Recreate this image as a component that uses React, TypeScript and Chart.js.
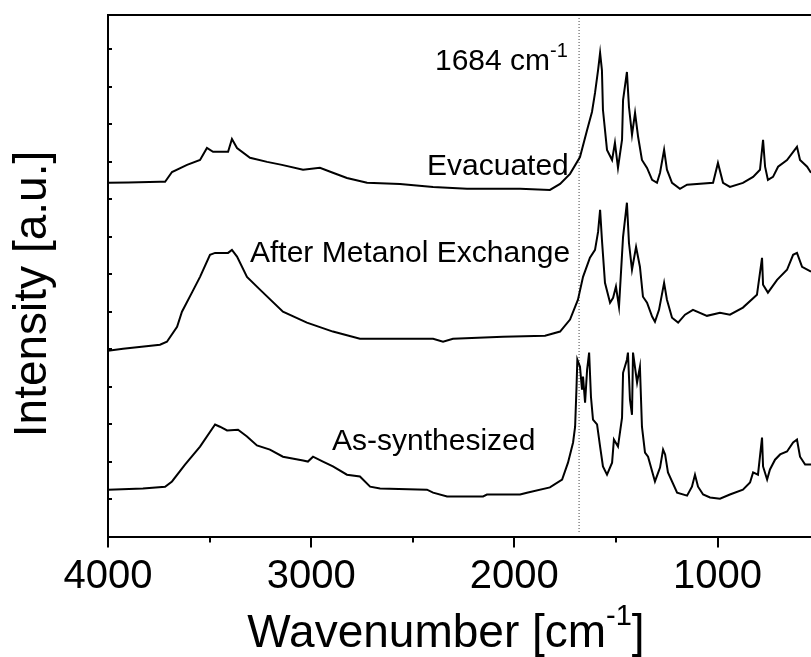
import React, { useEffect, useRef } from "react";
import { Chart, registerables } from "chart.js";

Chart.register(...registerables);

const FONT = '"Liberation Sans", Arial, Helvetica, sans-serif';

// FTIR spectra, stacked with vertical offsets (arbitrary units)
const evacuatedWn = [
  4000, 3900, 3744, 3719, 3685, 3611, 3547, 3513, 3483, 3409, 3390, 3365, 3301, 3217, 3144, 3040,
  2957, 2893, 2824, 2725, 2563, 2400, 2233, 1972, 1825, 1775, 1726, 1677, 1642, 1618, 1603, 1588,
  1578, 1569, 1564, 1544, 1519, 1505, 1490, 1470, 1465, 1446, 1436, 1421, 1406, 1391, 1372, 1347,
  1322, 1298, 1283, 1263, 1249, 1224, 1185, 1150, 1022, 998, 973, 939, 875, 825, 791, 776, 766,
  752, 727, 702, 658, 609, 594, 559, 540,
];
const evacuatedInt = [
  9.44, 9.45, 9.47, 9.47, 9.73, 9.92, 10.05, 10.37, 10.27, 10.27, 10.61, 10.37, 10.11, 10.0, 9.92, 9.79,
  9.84, 9.71, 9.57, 9.44, 9.41, 9.33, 9.28, 9.28, 9.25, 9.41, 9.68, 10.13, 10.85, 11.33, 11.84, 12.45,
  12.91, 12.45, 11.39, 10.32, 10.05, 10.51, 9.84, 10.59, 11.65, 12.4, 11.47, 10.72, 11.31, 10.67, 10.05, 9.84,
  9.52, 9.44, 9.71, 10.32, 9.79, 9.44, 9.28, 9.39, 9.44, 9.97, 9.44, 9.33, 9.44, 9.6, 9.79, 10.59, 9.87,
  9.52, 9.6, 9.87, 10.05, 10.4, 10.05, 9.87, 9.71,
];

const methanolWn = [
  4000, 3926, 3744, 3710, 3660, 3636, 3587, 3547, 3498, 3473, 3409, 3390, 3365, 3316, 3252, 3139,
  3021, 2893, 2760, 2400, 2351, 2302, 2056, 1849, 1775, 1726, 1687, 1662, 1628, 1603, 1588, 1578,
  1569, 1554, 1529, 1514, 1500, 1485, 1465, 1446, 1436, 1421, 1401, 1382, 1367, 1347, 1322, 1308,
  1288, 1263, 1249, 1224, 1194, 1160, 1121, 1052, 988, 939, 875, 806, 781, 776, 752, 707, 658, 628,
  609, 584, 540,
];
const methanolInt = [
  4.96, 5.01, 5.12, 5.2, 5.6, 6.0, 6.51, 6.93, 7.52, 7.57, 7.57, 7.65, 7.47, 6.93, 6.59, 6.0,
  5.71, 5.47, 5.28, 5.28, 5.2, 5.28, 5.33, 5.36, 5.47, 5.79, 6.32, 6.93, 7.44, 7.65, 8.13, 8.72,
  7.92, 6.77, 6.24, 6.37, 6.67, 6.13, 8.0, 8.91, 7.84, 7.12, 7.73, 7.2, 6.4, 6.24, 5.87, 5.73,
  6.05, 6.77, 6.32, 5.84, 5.71, 5.92, 6.05, 5.89, 5.97, 5.92, 6.11, 6.45, 7.44, 6.72, 6.51, 6.85, 7.12, 7.52,
  7.57, 7.2, 7.07,
];

const synthesizedWn = [
  4000, 3828, 3719, 3685, 3621, 3547, 3473, 3449, 3414, 3360, 3316, 3267, 3203, 3139, 3040, 3016,
  2991, 2942, 2893, 2824, 2760, 2710, 2661, 2430, 2400, 2331, 2154, 2135, 1972, 1938, 1825, 1765,
  1736, 1711, 1701, 1694, 1690, 1677, 1667, 1662, 1652, 1642, 1632, 1623, 1613, 1593, 1578, 1564,
  1544, 1519, 1510, 1490, 1470, 1465, 1446, 1441, 1431, 1421, 1416, 1396, 1382, 1372, 1357, 1342,
  1308, 1283, 1268, 1258, 1244, 1199, 1150, 1126, 1111, 1096, 1071, 1037, 988, 939, 875, 840,
  825, 801, 781, 776, 756, 742, 717, 692, 658, 628, 609, 594, 569, 540,
];
const synthesizedInt = [
  1.25, 1.28, 1.33, 1.47, 1.92, 2.4, 2.99, 2.93, 2.83, 2.85, 2.67, 2.43, 2.32, 2.13, 2.03, 2.0,
  2.13, 2.0, 1.87, 1.65, 1.6, 1.33, 1.28, 1.25, 1.17, 1.07, 1.07, 1.12, 1.12, 1.17, 1.31, 1.52,
  1.97, 2.51, 2.93, 4.0, 4.72, 4.53, 3.92, 4.27, 3.57, 4.45, 4.91, 3.73, 3.12, 2.99, 2.4, 1.87,
  1.65, 1.97, 2.59, 2.4, 3.17, 4.37, 4.72, 4.91, 3.65, 3.25, 4.91, 4.11, 4.53, 2.93, 2.24, 2.13,
  1.47, 1.84, 2.32, 2.19, 1.71, 1.17, 1.09, 1.33, 1.65, 1.33, 1.12, 1.04, 1.01, 1.12, 1.25, 1.44,
  1.71, 1.65, 2.64, 1.87, 1.52, 1.79, 2.05, 2.19, 2.27, 2.51, 2.59, 2.13, 1.92, 1.92,
];

const xTickValues = [4000, 3500, 3000, 2500, 2000, 1500, 1000];
const xMajorTicks = [4000, 3000, 2000, 1000];
const yTickValues = [1, 2, 3, 4, 5, 6, 7, 8, 9, 10, 11, 12, 13];
const markerWn = 1684;

const X_MIN = 540;
const X_MAX = 4000;
const Y_MIN = 0;
const Y_MAX = 13.92;

const toPoints = (xs: number[], ys: number[]) => xs.map((x, i) => ({ x, y: ys[i] }));

type Part = { text: string; size: number; rise: number };

function drawParts(ctx: CanvasRenderingContext2D, parts: Part[], x: number, y: number, align: "left" | "center") {
  let total = 0;
  const widths = parts.map((p) => {
    ctx.font = `${p.size}px ${FONT}`;
    const w = ctx.measureText(p.text).width;
    total += w;
    return w;
  });
  let cx = align === "center" ? x - total / 2 : x;
  ctx.textAlign = "left";
  ctx.textBaseline = "alphabetic";
  parts.forEach((p, i) => {
    ctx.font = `${p.size}px ${FONT}`;
    ctx.fillText(p.text, cx, y - p.rise);
    cx += widths[i];
  });
}

const framePlugin = {
  id: "spectrumFrame",
  beforeDatasetsDraw(chart: any) {
    const { ctx, chartArea, scales } = chart;
    const px = scales.x.getPixelForValue(markerWn);
    ctx.save();
    ctx.strokeStyle = "#444";
    ctx.lineWidth = 1;
    ctx.setLineDash([1, 2]);
    ctx.beginPath();
    ctx.moveTo(px + 0.5, chartArea.top);
    ctx.lineTo(px + 0.5, chartArea.bottom - 3);
    ctx.stroke();
    ctx.restore();
  },
  afterDraw(chart: any) {
    const { ctx, chartArea, scales } = chart;
    const { left, right, top, bottom } = chartArea;
    ctx.save();
    ctx.strokeStyle = "#000";
    ctx.fillStyle = "#000";
    ctx.lineWidth = 2;

    // top frame line
    ctx.beginPath();
    ctx.moveTo(left - 1, top);
    ctx.lineTo(right, top);
    ctx.stroke();

    // inward ticks on the intensity axis
    yTickValues.forEach((v) => {
      const y = Math.round(scales.y.getPixelForValue(v));
      ctx.beginPath();
      ctx.moveTo(left, y);
      ctx.lineTo(left + 4, y);
      ctx.stroke();
    });

    // outward ticks on the wavenumber axis
    xTickValues.forEach((v) => {
      const x = Math.round(scales.x.getPixelForValue(v));
      const len = xMajorTicks.includes(v) ? 11 : 6;
      ctx.beginPath();
      ctx.moveTo(x, bottom);
      ctx.lineTo(x, bottom + len);
      ctx.stroke();
    });

    // curve labels
    ctx.font = `30px ${FONT}`;
    ctx.textAlign = "left";
    ctx.textBaseline = "alphabetic";
    ctx.fillText("Evacuated", 427, 175);
    ctx.fillText("After Metanol Exchange", 250, 262);
    ctx.fillText("As-synthesized", 332, 450);

    drawParts(
      ctx,
      [
        { text: "1684 cm", size: 30, rise: 0 },
        { text: "-1", size: 20, rise: 13 },
      ],
      435,
      70,
      "left"
    );

    // axis titles
    drawParts(
      ctx,
      [
        { text: "Wavenumber [cm", size: 46, rise: 0 },
        { text: "-1", size: 29, rise: 22 },
        { text: "]", size: 46, rise: 0 },
      ],
      446,
      647,
      "center"
    );

    ctx.translate(46, 294);
    ctx.rotate(-Math.PI / 2);
    ctx.font = `46px ${FONT}`;
    ctx.textAlign = "center";
    ctx.textBaseline = "alphabetic";
    ctx.fillText("Intensity [a.u.]", 0, 0);
    ctx.restore();
  },
};

export default function App() {
  const canvasRef = useRef<HTMLCanvasElement | null>(null);

  useEffect(() => {
    if (!canvasRef.current) return;
    const lineStyle = {
      borderColor: "#000",
      borderWidth: 2,
      pointRadius: 0,
      tension: 0,
      fill: false,
    };
    const chart = new Chart(canvasRef.current, {
      type: "line",
      data: {
        datasets: [
          { label: "Evacuated", data: toPoints(evacuatedWn, evacuatedInt), ...lineStyle },
          { label: "After Metanol Exchange", data: toPoints(methanolWn, methanolInt), ...lineStyle },
          { label: "As-synthesized", data: toPoints(synthesizedWn, synthesizedInt), ...lineStyle },
        ],
      },
      options: {
        animation: false,
        responsive: false,
        maintainAspectRatio: false,
        layout: { padding: { left: 100, top: 15, right: 0, bottom: 47.5 } },
        plugins: {
          legend: { display: false },
          tooltip: { enabled: false },
        },
        scales: {
          x: {
            type: "linear",
            reverse: true,
            min: X_MIN,
            max: X_MAX,
            afterBuildTicks: (scale: any) => {
              scale.ticks = xTickValues.map((value) => ({ value }));
            },
            ticks: {
              autoSkip: false,
              maxRotation: 0,
              padding: 8.5,
              color: "#000",
              font: { family: FONT, size: 40 },
              callback: (v: any) => (xMajorTicks.includes(Number(v)) ? String(v) : ""),
            },
            grid: { display: false },
            border: { display: true, color: "#000", width: 2 },
          },
          y: {
            min: Y_MIN,
            max: Y_MAX,
            ticks: { display: false },
            grid: { display: false },
            border: { display: true, color: "#000", width: 2 },
          },
        },
      },
      plugins: [framePlugin],
    });
    return () => chart.destroy();
  }, []);

  return (
    <div style={{ position: "fixed", left: 0, top: 0, width: 811, height: 657, background: "#fff" }}>
      <canvas ref={canvasRef} width={811} height={657} style={{ display: "block" }} />
    </div>
  );
}
